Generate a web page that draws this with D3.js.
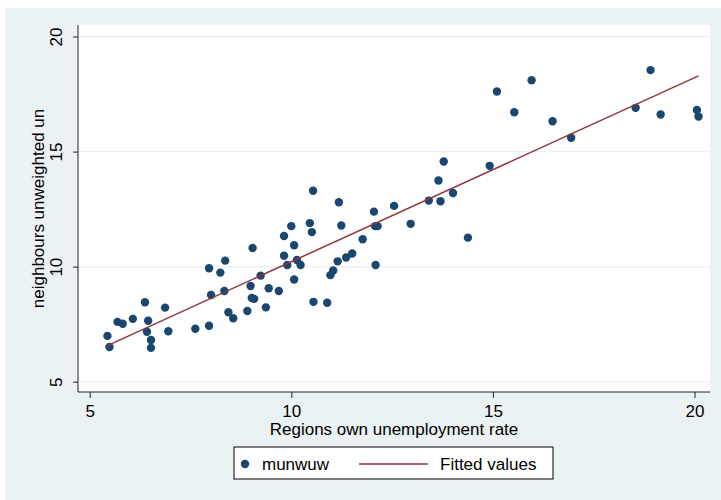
<!DOCTYPE html>
<html>
<head>
<meta charset="utf-8">
<script src="https://cdn.jsdelivr.net/npm/d3@7"></script>
<style>
  body { margin: 0; background: #ffffff; }
  text { font-family: "Liberation Sans", Arial, sans-serif; fill: #000; }
</style>
</head>
<body>
<div id="wrapper"></div>
<script>
// Regions own unemployment rate (x) vs neighbours unweighted un (y)
const ownRate = [5.44, 5.49, 5.69, 5.82, 6.07, 6.37, 6.45, 6.42, 6.52, 6.52,
  6.87, 6.95, 7.62, 7.96, 8.01, 7.96, 8.24, 8.36, 8.34, 8.44,
  8.56, 8.91, 8.99, 9.02, 9.08, 9.04, 9.24, 9.37, 9.44, 9.69,
  9.82, 10.00, 10.07, 9.82, 9.90, 10.14, 10.23, 10.07, 10.54, 10.46,
  10.51, 10.55, 10.89, 11.18, 11.24, 10.97, 11.04, 11.15, 11.36, 11.51,
  11.77, 12.05, 12.08, 12.14, 12.09, 12.55, 12.96, 13.41, 13.70, 13.65,
  13.78, 14.01, 14.38, 14.92, 15.10, 15.53, 15.96, 16.48, 16.94, 18.54,
  18.91, 19.16, 20.06, 20.10];
const neighRate = [6.99, 6.51, 7.60, 7.52, 7.73, 8.45, 7.65, 7.17, 6.81, 6.47,
  8.22, 7.19, 7.30, 7.43, 8.77, 9.93, 9.74, 10.26, 8.94, 8.02,
  7.76, 8.07, 9.16, 8.64, 8.60, 10.81, 9.61, 8.23, 9.06, 8.94,
  11.33, 11.76, 10.93, 10.47, 10.07, 10.29, 10.07, 9.44, 13.30, 11.89,
  11.50, 8.47, 8.43, 12.80, 11.79, 9.63, 9.83, 10.23, 10.40, 10.57,
  11.19, 12.39, 11.76, 11.76, 10.07, 12.64, 11.86, 12.87, 12.84, 13.74,
  14.57, 13.20, 11.26, 14.38, 17.61, 16.71, 18.10, 16.32, 15.60, 16.90,
  18.54, 16.61, 16.81, 16.52];

// fitted values at the two ends of the data
const fitX = [5.44, 20.10];
const fitY = [6.57, 18.29];

const xTicks = [5, 10, 15, 20];
const yTicks = [5, 10, 15, 20];

const legendLabels = ["munwuw", "Fitted values"];

const width = 721, height = 500;
const plot = { left: 78, right: 710, top: 25, bottom: 392 };
const dotColor = "#1a476f";
const lineColor = "#90353b";
const bgColor = "#eaf2f3";
const fontSize = "17px";

const svg = d3.select("#wrapper")
  .append("svg")
  .attr("width", width)
  .attr("height", height);

// graph region
svg.append("rect")
  .attr("x", 5).attr("y", 8)
  .attr("width", width - 5).attr("height", height - 8)
  .attr("fill", bgColor);

// plot region
svg.append("rect")
  .attr("x", plot.left).attr("y", plot.top)
  .attr("width", plot.right - plot.left).attr("height", plot.bottom - plot.top)
  .attr("fill", "#ffffff");

const xScale = d3.scaleLinear().domain([5, 20]).range([89.7, 694.5]);
const yScale = d3.scaleLinear().domain([5, 20]).range([381.7, 36.5]);

// grid lines
svg.append("g")
  .selectAll("line")
  .data(yTicks)
  .enter()
  .append("line")
  .attr("x1", plot.left).attr("x2", plot.right)
  .attr("y1", d => yScale(d)).attr("y2", d => yScale(d))
  .attr("stroke", bgColor)
  .attr("stroke-width", 1.5);

// y axis
const yAxis = svg.append("g")
  .attr("transform", `translate(${plot.left},0)`)
  .call(d3.axisLeft(yScale).tickValues(yTicks).tickSize(5).tickSizeOuter(0).tickFormat(d3.format("d")));
yAxis.select(".domain").remove();
yAxis.append("line")
  .attr("x1", 0).attr("x2", 0)
  .attr("y1", plot.top).attr("y2", plot.bottom)
  .attr("stroke", "#222");
yAxis.selectAll(".tick line").attr("stroke", "#222");
yAxis.selectAll(".tick text")
  .attr("x", 0).attr("y", 0)
  .attr("dy", null)
  .attr("text-anchor", "middle")
  .attr("transform", "translate(-16,0) rotate(-90)")
  .style("font-size", fontSize)
  .style("font-family", "Liberation Sans, Arial, sans-serif")
  .attr("fill", "#000");

// x axis
const xAxis = svg.append("g")
  .attr("transform", `translate(0,${plot.bottom})`)
  .call(d3.axisBottom(xScale).tickValues(xTicks).tickSize(6).tickSizeOuter(0).tickFormat(d3.format("d")));
xAxis.select(".domain").remove();
xAxis.append("line")
  .attr("x1", plot.left).attr("x2", plot.right)
  .attr("y1", 0).attr("y2", 0)
  .attr("stroke", "#222");
xAxis.selectAll(".tick line").attr("stroke", "#222");
xAxis.selectAll(".tick text")
  .attr("y", 25).attr("dy", null)
  .style("font-size", fontSize)
  .style("font-family", "Liberation Sans, Arial, sans-serif")
  .attr("fill", "#000");

// axis titles
svg.append("text")
  .attr("x", (plot.left + plot.right) / 2)
  .attr("y", 435)
  .attr("text-anchor", "middle")
  .style("font-size", fontSize)
  .text("Regions own unemployment rate");

svg.append("text")
  .attr("transform", `translate(44,${(plot.top + plot.bottom) / 2}) rotate(-90)`)
  .attr("text-anchor", "middle")
  .style("font-size", fontSize)
  .text("neighbours unweighted un");

// scatter points
const points = ownRate.map((d, i) => ({ x: d, y: neighRate[i] }));
svg.append("g")
  .selectAll("circle")
  .data(points)
  .enter()
  .append("circle")
  .attr("cx", d => xScale(d.x))
  .attr("cy", d => yScale(d.y))
  .attr("r", 4.2)
  .attr("fill", dotColor);

// fitted line
const lineGenerator = d3.line()
  .x(d => xScale(d[0]))
  .y(d => yScale(d[1]));
svg.append("path")
  .attr("d", lineGenerator(fitX.map((d, i) => [d, fitY[i]])))
  .attr("fill", "none")
  .attr("stroke", lineColor)
  .attr("stroke-width", 1.5);

// legend
const legend = svg.append("g");
legend.append("rect")
  .attr("x", 234).attr("y", 447)
  .attr("width", 319).attr("height", 32)
  .attr("fill", "#ffffff")
  .attr("stroke", "#000")
  .attr("stroke-width", 1);
legend.append("circle")
  .attr("cx", 245).attr("cy", 464)
  .attr("r", 4.2)
  .attr("fill", dotColor);
legend.append("text")
  .attr("x", 262).attr("y", 470)
  .style("font-size", fontSize)
  .text(legendLabels[0]);
legend.append("line")
  .attr("x1", 359).attr("x2", 428)
  .attr("y1", 464).attr("y2", 464)
  .attr("stroke", lineColor)
  .attr("stroke-width", 1.5);
legend.append("text")
  .attr("x", 440).attr("y", 470)
  .style("font-size", fontSize)
  .text(legendLabels[1]);
</script>
</body>
</html>
